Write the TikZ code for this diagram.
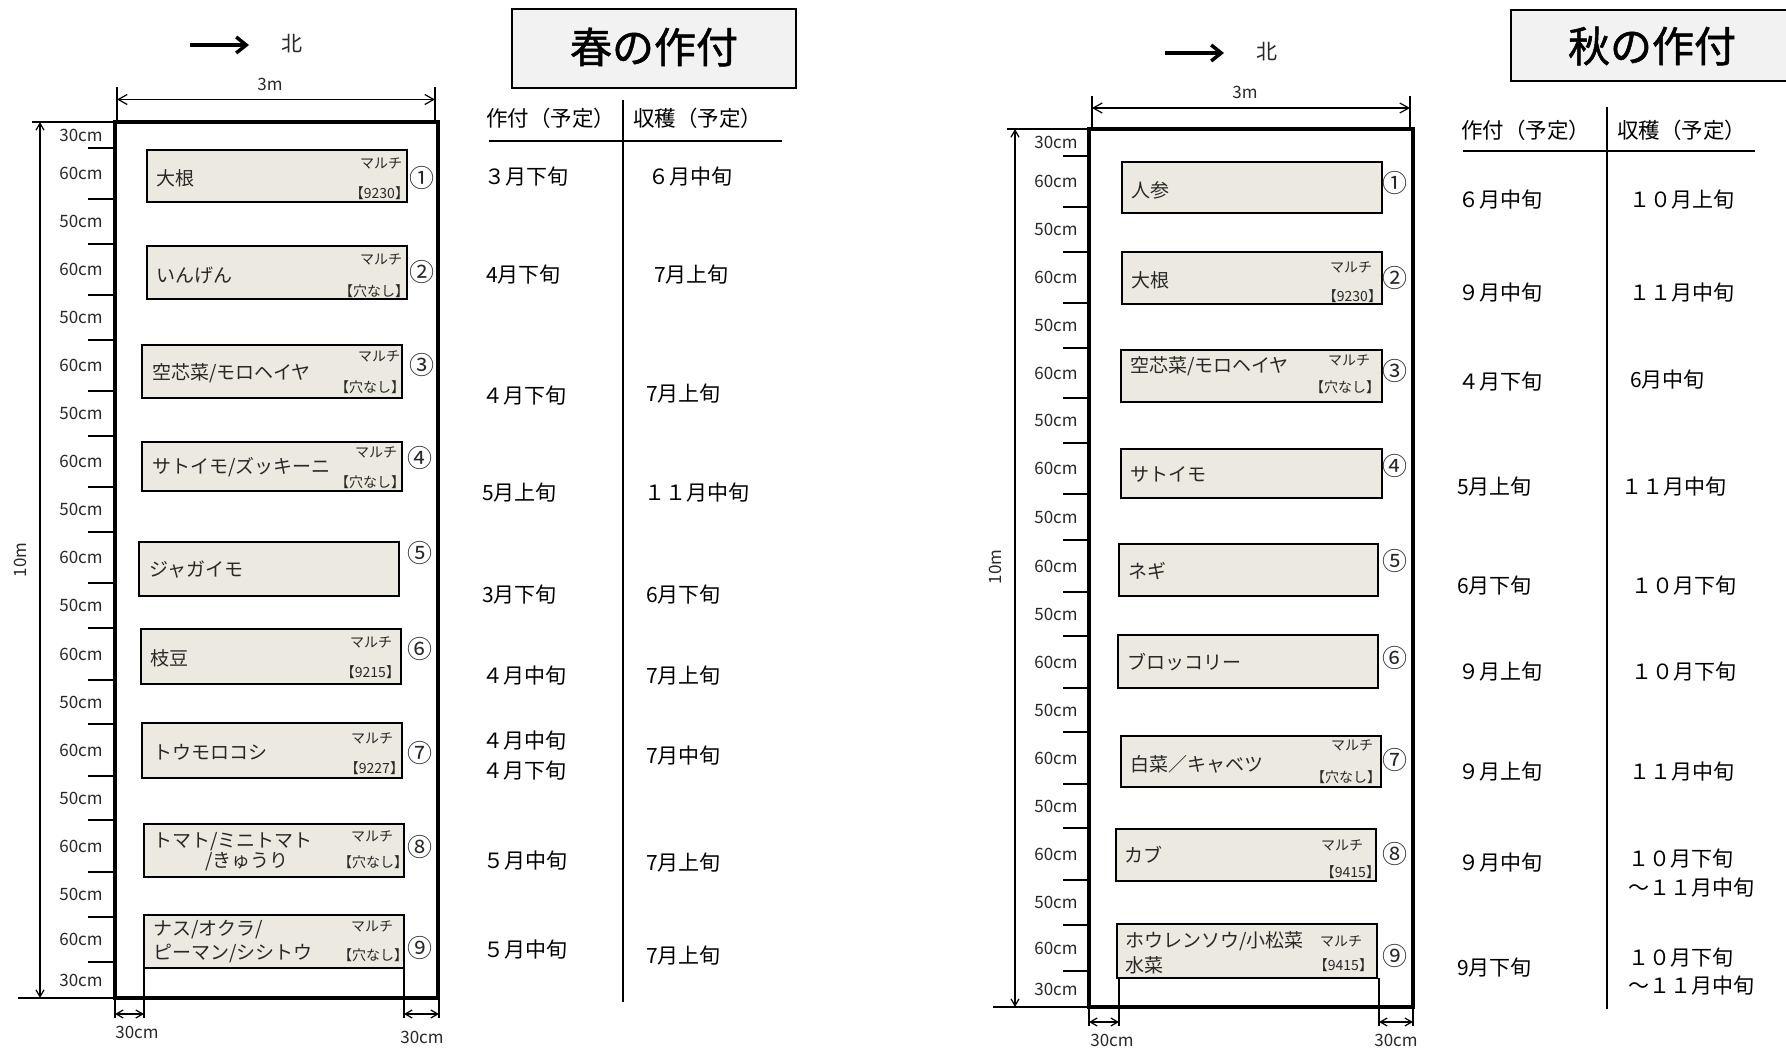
\documentclass[tikz,border=0pt]{standalone}
\usepackage{fontspec}
\setmainfont{Noto Sans CJK JP}
\newfontfamily\ttlfont{Noto Sans CJK JP}[FakeBold=1.2]
\usetikzlibrary{arrows.meta,fit}
\definecolor{bedfill}{RGB}{236,233,224}
\definecolor{titlefill}{RGB}{242,242,242}
\definecolor{txt}{RGB}{40,40,40}
\begin{document}
\begin{tikzpicture}[x=1pt,y=-1pt,
  every node/.style={inner sep=0pt,outer sep=0pt,text=txt},
  fs/.style={font=\fontsize{#1}{#1}\selectfont},
  plotrect/.style={draw,line width=4pt,inner sep=0pt},
  bedbox/.style={draw,line width=2pt,fill=bedfill,inner sep=0pt},
  titlebox/.style={draw,line width=1.5pt,fill=titlefill,inner sep=0pt},
  titletxt/.style={font=\fontsize{42}{42}\ttlfont,text=black},
  bedname/.style={fs=19,anchor=west},
  mulch/.style={fs=14,anchor=east},
  cnum/.style={fs=25},
  dimlbl/.style={fs=17},
  tbl/.style={fs=21,anchor=west,text=black},
  tickline/.style={line width=1.5pt},
  thinline/.style={line width=1.2pt},
  dimarrow/.style={line width=1.2pt,{Straight Barb[length=9pt,width=10pt]}-{Straight Barb[length=9pt,width=10pt]}},
  smallarrow/.style={line width=1.2pt,{Straight Barb[length=7pt,width=8pt]}-{Straight Barb[length=7pt,width=8pt]}},
  northarrow/.style={line width=3.5pt,-{Straight Barb[length=10pt,width=16pt]}},
]
\useasboundingbox (0,0) rectangle (1786,1050);
\fill[white] (0,0) rectangle (1786,1050);

%%%%%%%%%%%%%%%%%%%% SPRING PLAN %%%%%%%%%%%%%%%%%%%%
\coordinate (sna) at (190,45);
\coordinate (snb) at (249,45);
\draw[northarrow] (sna) -- (snb);
\node[fs=21] (snorth) at (292,44) {北};

% 3m dimension
\draw[thinline] (117,87) -- (117,120);
\draw[thinline] (435,87) -- (435,120);
\coordinate (s3a) at (117,99.5);
\coordinate (s3b) at (435,99.5);
\draw[dimarrow] (s3a) -- (s3b);
\node[dimlbl] (s3m) at (270,84) {3m};

% main plot
\node[plotrect,fit={(115,122) (438,998)}] (sp) {};

% 10m
\draw[thinline] (32,122) -- (115,122);
\draw[thinline] (18,998) -- (115,998);
\coordinate (s10a) at (40,122);
\coordinate (s10b) at (40,998);
\draw[smallarrow] (s10a) -- (s10b);
\node[dimlbl,rotate=90] (s10m) at (20,560) {10m};

\foreach \y in {148,199,244,295,340,391,436,487,532,583,628,680,724,776,820,872,917,962}
  \draw[tickline] (88,\y) -- (113,\y);
\foreach \y/\t [count=\i] in {135/30cm,173.5/60cm,221.5/50cm,269.5/60cm,317.5/50cm,365.5/60cm,413.5/50cm,461.5/60cm,509.5/50cm,557.5/60cm,605.5/50cm,654/60cm,702/50cm,750/60cm,798/50cm,846/60cm,894.5/50cm,939.5/60cm,980/30cm}
  \node[dimlbl] (sl\i) at (81,\y) {\t};

% beds
\node[bedbox,fit={(147,150) (407,202)}] (s1) {};
\node[bedbox,fit={(147,246) (407,299)}] (s2) {};
\node[bedbox,fit={(142,345) (402,398)}] (s3) {};
\node[bedbox,fit={(142,442) (402,491)}] (s4) {};
\node[bedbox,fit={(139,542) (399,596)}] (s5) {};
\node[bedbox,fit={(141,629) (401,684)}] (s6) {};
\node[bedbox,fit={(142,723) (402,778)}] (s7) {};
\node[bedbox,fit={(144,824) (404,877)}] (s8) {};
\node[bedbox,fit={(144,915) (404,968)}] (s9) {};

\node[bedname] (s1t) at (156,178) {大根};
\node[mulch] (s1m) at (402,163) {マルチ};
\node[mulch] (s1k) at (409,193) {【9230】};
\node[cnum] (s1c) at (422,178) {①};

\node[bedname] (s2t) at (156,275) {いんげん};
\node[mulch] (s2m) at (402,259) {マルチ};
\node[mulch] (s2k) at (409,291) {【穴なし】};
\node[cnum] (s2c) at (422,272) {②};

\node[bedname] (s3t) at (152,373) {空芯菜/モロヘイヤ};
\node[mulch] (s3m) at (400,356) {マルチ};
\node[mulch] (s3k) at (405,387) {【穴なし】};
\node[cnum] (s3c) at (422,365) {③};

\node[bedname] (s4t) at (152,467) {サトイモ/ズッキーニ};
\node[mulch] (s4m) at (397,452) {マルチ};
\node[mulch] (s4k) at (405,482) {【穴なし】};
\node[cnum] (s4c) at (420,458) {④};

\node[bedname] (s5t) at (149,570) {ジャガイモ};
\node[cnum] (s5c) at (420,553) {⑤};

\node[bedname] (s6t) at (150,658) {枝豆};
\node[mulch] (s6m) at (392,642) {マルチ};
\node[mulch] (s6k) at (400,672) {【9215】};
\node[cnum] (s6c) at (420,649) {⑥};

\node[bedname] (s7t) at (153,752) {トウモロコシ};
\node[mulch] (s7m) at (393,738) {マルチ};
\node[mulch] (s7k) at (404,768) {【9227】};
\node[cnum] (s7c) at (420,753) {⑦};

\node[bedname] (s8t) at (153,842) {トマト/ミニトマト};
\node[bedname] (s8u) at (205,862) {/きゅうり};
\node[mulch] (s8m) at (393,836) {マルチ};
\node[mulch] (s8k) at (408,862) {【穴なし】};
\node[cnum] (s8c) at (420,847) {⑧};

\node[bedname] (s9t) at (153,930) {ナス/オクラ/};
\node[bedname] (s9u) at (153,953) {ピーマン/シシトウ};
\node[mulch] (s9m) at (393,926) {マルチ};
\node[mulch] (s9k) at (408,955) {【穴なし】};
\node[cnum] (s9c) at (420,948) {⑨};

% bottom 30cm dims
\draw[thinline] (144,968) -- (144,1018);
\draw[thinline] (404,968) -- (404,1018);
\draw[thinline] (115,998) -- (115,1018);
\draw[thinline] (439,998) -- (439,1018);
\coordinate (sbl1) at (115,1014);
\coordinate (sbl2) at (144,1014);
\coordinate (sbr1) at (404,1014);
\coordinate (sbr2) at (439,1014);
\draw[smallarrow] (sbl1) -- (sbl2);
\draw[smallarrow] (sbr1) -- (sbr2);
\node[dimlbl] (sbl) at (137,1032) {30cm};
\node[dimlbl] (sbr) at (422,1037) {30cm};

%%%%%%%%%%%%%%%%%%%% SPRING TABLE %%%%%%%%%%%%%%%%%%%%
\node[titlebox,fit={(512,9) (796,88)}] (stitle) {};
\node[titletxt] (stitlet) at (654,47) {春の作付};
\node[tbl,fs=21.5] (sh1) at (486,118) {作付（予定）};
\node[tbl,fs=21.5] (sh2) at (633,118) {収穫（予定）};
\draw[thinline] (489,141) -- (782,141);
\draw[thinline] (623,100) -- (623,1002);

\node[tbl] (sa1) at (484,177) {３月下旬};
\node[tbl] (sb1) at (648,177) {６月中旬};
\node[tbl] (sa2) at (486,275) {4月下旬};
\node[tbl] (sb2) at (654,275) {7月上旬};
\node[tbl] (sa3) at (482,396) {４月下旬};
\node[tbl] (sb3) at (646,394) {7月上旬};
\node[tbl] (sa4) at (482,493) {5月上旬};
\node[tbl] (sb4) at (644,493) {１１月中旬};
\node[tbl] (sa5) at (482,595) {3月下旬};
\node[tbl] (sb5) at (646,595) {6月下旬};
\node[tbl] (sa6) at (482,676) {４月中旬};
\node[tbl] (sb6) at (646,676) {7月上旬};
\node[tbl] (sa7) at (482,741) {４月中旬};
\node[tbl] (sa7b) at (482,771) {４月下旬};
\node[tbl] (sb7) at (646,756) {7月中旬};
\node[tbl] (sa8) at (483,861) {５月中旬};
\node[tbl] (sb8) at (646,863) {7月上旬};
\node[tbl] (sa9) at (483,950) {５月中旬};
\node[tbl] (sb9) at (646,956) {7月上旬};

%%%%%%%%%%%%%%%%%%%% AUTUMN PLAN %%%%%%%%%%%%%%%%%%%%
\coordinate (ana) at (1165,53);
\coordinate (anb) at (1224,53);
\draw[northarrow] (ana) -- (anb);
\node[fs=21] (anorth) at (1267,52) {北};

\draw[thinline] (1092,96) -- (1092,127);
\draw[thinline] (1410,96) -- (1410,127);
\coordinate (a3a) at (1092,108);
\coordinate (a3b) at (1410,108);
\draw[dimarrow] (a3a) -- (a3b);
\node[dimlbl] (a3m) at (1245,92) {3m};

\node[plotrect,fit={(1089,129) (1413,1007)}] (ap) {};

\draw[thinline] (1007,129) -- (1089,129);
\draw[thinline] (993,1007) -- (1089,1007);
\coordinate (a10a) at (1015,129);
\coordinate (a10b) at (1015,1007);
\draw[smallarrow] (a10a) -- (a10b);
\node[dimlbl,rotate=90] (a10m) at (995,567) {10m};

\foreach \y in {156,207,252,303,348,398,443,494,540,592,636,688,732,784,828,880,925,971}
  \draw[tickline] (1063,\y) -- (1088,\y);
\foreach \y/\t [count=\i] in {142/30cm,181.5/60cm,229.5/50cm,277.5/60cm,325.5/50cm,373/60cm,420.5/50cm,468.5/60cm,517/50cm,566/60cm,614/50cm,662/60cm,710/50cm,758/60cm,806/50cm,854/60cm,902.5/50cm,948/60cm,989/30cm}
  \node[dimlbl] (al\i) at (1056,\y) {\t};

\node[bedbox,fit={(1122,162) (1382,213)}] (a1) {};
\node[bedbox,fit={(1122,252) (1382,304)}] (a2) {};
\node[bedbox,fit={(1121,350) (1382,402)}] (a3) {};
\node[bedbox,fit={(1121,449) (1382,498)}] (a4) {};
\node[bedbox,fit={(1119,544) (1378,596)}] (a5) {};
\node[bedbox,fit={(1118,635) (1378,688)}] (a6) {};
\node[bedbox,fit={(1121,736) (1381,787)}] (a7) {};
\node[bedbox,fit={(1116,829) (1376,881)}] (a8) {};
\node[bedbox,fit={(1117,924) (1377,978)}] (a9) {};

\node[bedname] (a1t) at (1131,190) {人参};
\node[cnum] (a1c) at (1395,183) {①};

\node[bedname] (a2t) at (1131,280) {大根};
\node[mulch] (a2m) at (1372,267) {マルチ};
\node[mulch] (a2k) at (1382,296) {【9230】};
\node[cnum] (a2c) at (1395,278) {②};

\node[bedname] (a3t) at (1130,366) {空芯菜/モロヘイヤ};
\node[mulch] (a3m) at (1370,360) {マルチ};
\node[mulch] (a3k) at (1380,387) {【穴なし】};
\node[cnum] (a3c) at (1395,371) {③};

\node[bedname] (a4t) at (1130,474) {サトイモ};
\node[cnum] (a4c) at (1395,466) {④};

\node[bedname] (a5t) at (1128,571) {ネギ};
\node[cnum] (a5c) at (1395,561) {⑤};

\node[bedname] (a6t) at (1127,662) {ブロッコリー};
\node[cnum] (a6c) at (1395,658) {⑥};

\node[bedname] (a7t) at (1130,764) {白菜／キャベツ};
\node[mulch] (a7m) at (1373,745) {マルチ};
\node[mulch] (a7k) at (1381,777) {【穴なし】};
\node[cnum] (a7c) at (1395,760) {⑦};

\node[bedname] (a8t) at (1124,855) {カブ};
\node[mulch] (a8m) at (1363,845) {マルチ};
\node[mulch] (a8k) at (1380,872) {【9415】};
\node[cnum] (a8c) at (1395,854) {⑧};

\node[bedname] (a9t) at (1125,941) {ホウレンソウ/小松菜};
\node[bedname] (a9u) at (1125,965) {水菜};
\node[mulch] (a9m) at (1362,941) {マルチ};
\node[mulch] (a9k) at (1373,965) {【9415】};
\node[cnum] (a9c) at (1395,956) {⑨};

\draw[thinline] (1119,978) -- (1119,1026);
\draw[thinline] (1379,978) -- (1379,1026);
\draw[thinline] (1089,1007) -- (1089,1026);
\draw[thinline] (1413,1007) -- (1413,1026);
\coordinate (abl1) at (1089,1022);
\coordinate (abl2) at (1119,1022);
\coordinate (abr1) at (1379,1022);
\coordinate (abr2) at (1413,1022);
\draw[smallarrow] (abl1) -- (abl2);
\draw[smallarrow] (abr1) -- (abr2);
\node[dimlbl] (abl) at (1112,1040) {30cm};
\node[dimlbl] (abr) at (1396,1040) {30cm};

%%%%%%%%%%%%%%%%%%%% AUTUMN TABLE %%%%%%%%%%%%%%%%%%%%
\node[titlebox,fit={(1511,10) (1800,81)}] (atitle) {};
\node[titletxt] (atitlet) at (1652,46) {秋の作付};
\node[tbl,fs=21.5] (ah1) at (1461,130) {作付（予定）};
\node[tbl,fs=21.5] (ah2) at (1617,130) {収穫（予定）};
\draw[thinline] (1463,151) -- (1755,151);
\draw[thinline] (1607,107) -- (1607,1009);

\node[tbl] (aa1) at (1458,200) {６月中旬};
\node[tbl] (ab1) at (1629,200) {１０月上旬};
\node[tbl] (aa2) at (1458,293) {９月中旬};
\node[tbl] (ab2) at (1629,293) {１１月中旬};
\node[tbl] (aa3) at (1458,382) {４月下旬};
\node[tbl] (ab3) at (1630,380) {6月中旬};
\node[tbl] (aa4) at (1457,487) {5月上旬};
\node[tbl] (ab4) at (1621,487) {１１月中旬};
\node[tbl] (aa5) at (1457,586) {6月下旬};
\node[tbl] (ab5) at (1631,586) {１０月下旬};
\node[tbl] (aa6) at (1458,672) {９月上旬};
\node[tbl] (ab6) at (1631,672) {１０月下旬};
\node[tbl] (aa7) at (1458,772) {９月上旬};
\node[tbl] (ab7) at (1629,772) {１１月中旬};
\node[tbl] (aa8) at (1458,863) {９月中旬};
\node[tbl] (ab8) at (1628,859) {１０月下旬};
\node[tbl] (ab8b) at (1628,888) {～１１月中旬};
\node[tbl] (aa9) at (1457,968) {9月下旬};
\node[tbl] (ab9) at (1628,958) {１０月下旬};
\node[tbl] (ab9b) at (1628,986) {～１１月中旬};
\end{tikzpicture}
\end{document}
